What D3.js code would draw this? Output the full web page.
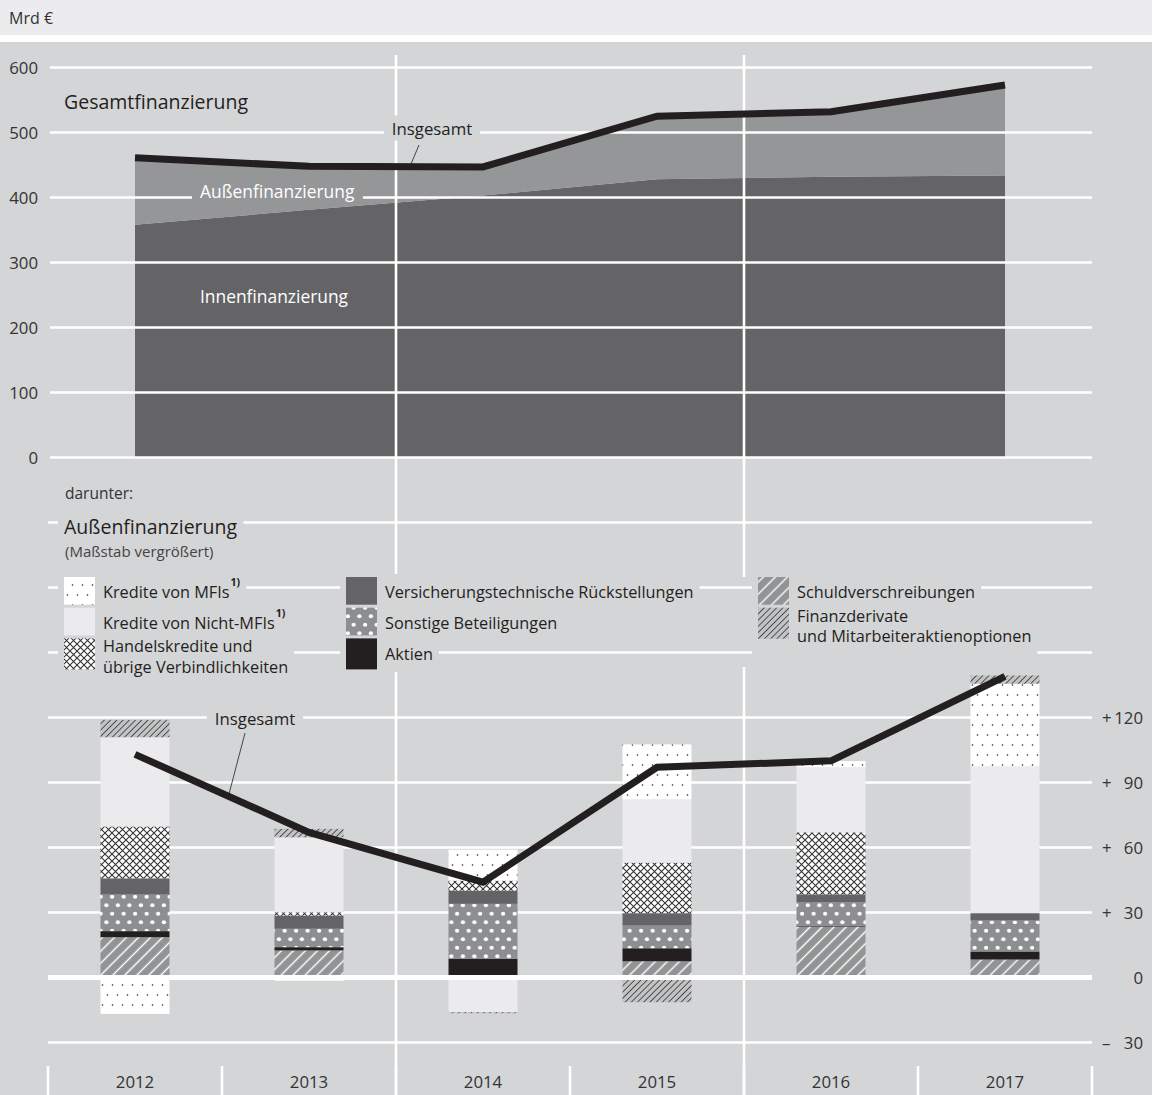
<!DOCTYPE html>
<html>
<head>
<meta charset="utf-8">
<script src="https://cdn.jsdelivr.net/npm/d3@7"></script>
<style>
  body { margin: 0; background: #d4d5d7; }
  svg { display: block; font-family: "Open Sans", sans-serif; }
</style>
</head>
<body>
<svg id="chart" width="1152" height="1095"></svg>
<script>
// ---- data (Mrd €) ----
const years = ['2012', '2013', '2014', '2015', '2016', '2017'];
const innen = [358, 381, 403, 428, 432, 434];      // Innenfinanzierung
const aussen = [103, 67, 44, 97, 100, 139];        // Außenfinanzierung insgesamt

// Außenfinanzierung nach Instrumenten
const schuld   = [18.6, 12.5, 0, 7.5, 23.5, 8.3];
const aktien   = [2.8, 1.5, 8.6, 6.0, 0.4, 3.7];
const sonstige = [16.9, 8.5, 25.4, 10.5, 10.8, 14.3];
const versich  = [7.5, 6.1, 6.1, 5.7, 3.7, 3.4];
const handels  = [23.9, 1.5, 4.6, 23.3, 28.6, 0];
const nichtMfi = [41.2, 34.6, -16.0, 29.2, 30.0, 67.7];
const mfi      = [-16.8, -1.5, 14.3, 25.4, 2.9, 38.2];
const derivate = [8.0, 3.9, -0.5, -11.4, 0, 3.8];

const topTicks = [0, 100, 200, 300, 400, 500, 600];
const botGrid = [-30, 0, 30, 60, 90, 120, 150, 180, 210];
const botLabels = [-30, 0, 30, 60, 90, 120];

const keys = ['schuld', 'aktien', 'sonstige', 'versich', 'handels', 'nichtMfi', 'mfi', 'derivate'];
const series = { schuld, aktien, sonstige, versich, handels, nichtMfi, mfi, derivate };

// legend: [key, lines, column, row]
const legendItems = [
  ['mfi', ['Kredite von MFIs|1)'], 0, 0],
  ['nichtMfi', ['Kredite von Nicht-MFIs|1)'], 0, 1],
  ['handels', ['Handelskredite und', 'übrige Verbindlichkeiten'], 0, 2],
  ['versich', ['Versicherungstechnische Rückstellungen'], 1, 0],
  ['sonstige', ['Sonstige Beteiligungen'], 1, 1],
  ['aktien', ['Aktien'], 1, 2],
  ['schuld', ['Schuldverschreibungen'], 2, 0],
  ['derivate', ['Finanzderivate', 'und Mitarbeiteraktienoptionen'], 2, 1]
];
const legendCols = [64, 346, 758];

// ---- setup ----
const W = 1152, H = 1095;
const BG = '#d4d5d7', INK = '#231f20', TXT = '#333';
const FS = 16.8, LFS = 16.3;
const svg = d3.select('#chart');
const defs = svg.append('defs');

function hatch(id, bg, fg, gap, w) {
  const p = defs.append('pattern').attr('id', id)
    .attr('patternUnits', 'userSpaceOnUse')
    .attr('width', gap).attr('height', gap)
    .attr('patternTransform', 'rotate(45)');
  p.append('rect').attr('width', gap).attr('height', gap).attr('fill', bg);
  p.append('line').attr('x1', gap / 2).attr('x2', gap / 2).attr('y1', 0).attr('y2', gap)
    .attr('stroke', fg).attr('stroke-width', w);
}
function dots(id, bg, fg, w, h, r) {
  const p = defs.append('pattern').attr('id', id)
    .attr('patternUnits', 'userSpaceOnUse').attr('width', w).attr('height', h);
  p.append('rect').attr('width', w).attr('height', h).attr('fill', bg);
  p.append('circle').attr('cx', w / 4).attr('cy', h / 4).attr('r', r).attr('fill', fg);
  p.append('circle').attr('cx', w * 3 / 4).attr('cy', h * 3 / 4).attr('r', r).attr('fill', fg);
}
hatch('p-schuld', '#929395', '#fff', 8.5, 1.4);
hatch('p-deriv', '#c2c3c5', '#3e3e3e', 4.4, 0.85);
dots('p-mfi', '#fff', '#222', 10, 20, 0.8);
dots('p-sonst', '#8d8e90', '#fff', 11.5, 17, 2.1);
const cross = defs.append('pattern').attr('id', 'p-cross')
  .attr('patternUnits', 'userSpaceOnUse').attr('width', 7).attr('height', 7);
cross.append('rect').attr('width', 7).attr('height', 7).attr('fill', '#fff');
cross.append('path').attr('d', 'M0,0L7,7M7,0L0,7').attr('stroke', '#333').attr('stroke-width', 1.1);

const fills = {
  schuld: 'url(#p-schuld)', aktien: INK, sonstige: 'url(#p-sonst)', versich: '#646466',
  handels: 'url(#p-cross)', nichtMfi: '#ebebed', mfi: 'url(#p-mfi)', derivate: 'url(#p-deriv)'
};

// background
svg.append('rect').attr('width', W).attr('height', H).attr('fill', BG);
svg.append('rect').attr('width', W).attr('height', 35).attr('fill', '#ececee');
svg.append('rect').attr('y', 35).attr('width', W).attr('height', 7).attr('fill', '#fff');
svg.append('text').attr('x', 9).attr('y', 18).attr('dominant-baseline', 'central')
  .attr('font-size', 16).attr('fill', TXT).text('Mrd €');

// scales
const x = d3.scaleBand().domain(years).range([48, 1092]);
const cx = d => x(d) + x.bandwidth() / 2;
const yTop = d3.scaleLinear().domain([0, 600]).range([457.5, 67.5]);
const yBot = d3.scaleLinear().domain([-30, 240]).range([1042.5, 457.5]);

// bottom grid (behind bars)
svg.append('g').selectAll('line').data(botGrid).join('line')
  .attr('x1', 48).attr('x2', 1092).attr('y1', d => yBot(d)).attr('y2', d => yBot(d))
  .attr('stroke', '#fff').attr('stroke-width', 2.6);

// top areas
const total = innen.map((v, i) => v + aussen[i]);
svg.append('path')
  .attr('d', d3.area().x(cx).y0(yTop(0)).y1((d, i) => yTop(innen[i]))(years))
  .attr('fill', '#646466');
svg.append('path')
  .attr('d', d3.area().x(cx).y0((d, i) => yTop(innen[i])).y1((d, i) => yTop(total[i]))(years))
  .attr('fill', '#959698');

// top grid (over the areas)
svg.append('g').selectAll('line').data(topTicks).join('line')
  .attr('x1', 50).attr('x2', 1092).attr('y1', d => yTop(d)).attr('y2', d => yTop(d))
  .attr('stroke', '#fff').attr('stroke-width', 2.6);
svg.append('g').selectAll('text').data(topTicks).join('text')
  .attr('x', 38).attr('y', d => yTop(d)).attr('text-anchor', 'end')
  .attr('dominant-baseline', 'central').attr('font-size', FS).attr('fill', TXT).text(d => d);

// legend geometry
const legTop = 577, rowH = 30.7, sw = 31;
const legBottom = legTop + 3 * rowH;

// vertical separators and ticks
const bounds = years.map(d => x(d)).concat([x.range()[1]]);
[x('2014'), x('2016')].forEach(vx => {
  [[55, legTop], [legBottom - 2, H]].forEach(([a, b]) => {
    svg.append('line').attr('x1', vx).attr('x2', vx).attr('y1', a).attr('y2', b)
      .attr('stroke', '#fff').attr('stroke-width', 2.6);
  });
});
svg.append('g').selectAll('line').data(bounds).join('line')
  .attr('x1', d => d).attr('x2', d => d).attr('y1', 1066).attr('y2', 1095)
  .attr('stroke', '#fff').attr('stroke-width', 2.6);
svg.append('g').selectAll('text').data(years).join('text')
  .attr('x', cx).attr('y', 1081).attr('text-anchor', 'middle')
  .attr('dominant-baseline', 'central').attr('font-size', FS).attr('fill', TXT).text(d => d);

// bars
const table = years.map((y, i) => {
  const o = { year: y };
  keys.forEach(k => { o[k] = series[k][i]; });
  return o;
});
const stacked = d3.stack().keys(keys).offset(d3.stackOffsetDiverging)(table);
const bw = 69;
svg.append('g').selectAll('g').data(stacked).join('g')
  .attr('fill', d => fills[d.key])
  .selectAll('rect').data(d => d).join('rect')
  .attr('x', d => cx(d.data.year) - bw / 2).attr('width', bw)
  .attr('y', d => yBot(Math.max(d[0], d[1])))
  .attr('height', d => Math.abs(yBot(d[0]) - yBot(d[1])));

// zero line over bars
svg.append('line').attr('x1', 48).attr('x2', 1092).attr('y1', yBot(0)).attr('y2', yBot(0))
  .attr('stroke', '#fff').attr('stroke-width', 5);

// bottom axis labels
const bl = svg.append('g').selectAll('g').data(botLabels).join('g');
bl.append('text').attr('x', 1102).attr('y', d => yBot(d)).attr('dominant-baseline', 'central')
  .attr('font-size', FS).attr('fill', TXT).text(d => d > 0 ? '+' : d < 0 ? '–' : '');
bl.append('text').attr('x', 1143).attr('y', d => yBot(d)).attr('text-anchor', 'end')
  .attr('dominant-baseline', 'central').attr('font-size', FS).attr('fill', TXT).text(d => Math.abs(d));

// lines
const lineStyle = sel => sel.attr('fill', 'none').attr('stroke', INK).attr('stroke-width', 7);
svg.append('path').attr('d', d3.line().x(cx).y((d, i) => yTop(total[i]))(years)).call(lineStyle);
svg.append('path').attr('d', d3.line().x(cx).y((d, i) => yBot(aussen[i]))(years)).call(lineStyle);

// labels with a background box
function boxLabel(txt, lx, ly, opts) {
  const g = svg.append('g');
  const t = g.append('text').attr('x', lx).attr('y', ly)
    .attr('text-anchor', opts.anchor || 'start').attr('dominant-baseline', 'central')
    .attr('font-size', opts.size || FS).attr('fill', opts.color || INK).text(txt);
  if (opts.box) {
    const b = t.node().getBBox();
    g.insert('rect', 'text').attr('x', b.x - opts.pad).attr('y', b.y - 1)
      .attr('width', b.width + 2 * opts.pad).attr('height', b.height + 2).attr('fill', opts.box);
  }
  return g;
}
boxLabel('Gesamtfinanzierung', 64, 101, { size: 19.5 });
boxLabel('Insgesamt', 432, 128, { anchor: 'middle', box: BG, pad: 8 });
svg.append('line').attr('x1', 419).attr('y1', 145).attr('x2', 411).attr('y2', 164)
  .attr('stroke', INK).attr('stroke-width', 0.8);
boxLabel('Außenfinanzierung', 200, 191, { size: 17.4, color: '#fff', box: '#959698', pad: 8 });
boxLabel('Innenfinanzierung', 200, 296, { size: 17.4, color: '#fff' });
boxLabel('Insgesamt', 255, 718, { anchor: 'middle', box: BG, pad: 8 });
svg.append('line').attr('x1', 245).attr('y1', 733).attr('x2', 229).attr('y2', 794)
  .attr('stroke', INK).attr('stroke-width', 0.8);
boxLabel('darunter:', 65, 493, { size: 15.5, color: TXT });
boxLabel('Außenfinanzierung', 64, 526, { size: 19.5, box: BG, pad: 6 });
boxLabel('(Maßstab vergrößert)', 65, 551, { size: 15, color: '#444' });

// legend
legendItems.forEach(([key, lines, col, row]) => {
  const g = svg.append('g');
  const lx = legendCols[col], ly = legTop + row * rowH;
  const isLast = !legendItems.some(o => o[2] === col && o[3] > row);
  const t = g.append('text').attr('font-size', LFS).attr('fill', INK);
  lines.forEach((ln, j) => {
    const [main, sup] = ln.split('|');
    const mid = ly + rowH / 2;
    const yy = lines.length > 1 ? mid - 7.5 + j * 20.5 : mid;
    t.append('tspan').attr('x', lx + sw + 8).attr('y', yy)
      .attr('dominant-baseline', 'central').text(main);
    if (sup) t.append('tspan').attr('dy', -6).attr('dx', 1).attr('font-size', 10.5)
      .attr('font-weight', 'bold').text(sup);
  });
  const b = t.node().getBBox();
  const bottom = isLast ? legBottom + 3 : Math.max(ly + rowH, b.y + b.height) + 3;
  g.insert('rect', 'text').attr('x', lx - 6).attr('y', ly - 3)
    .attr('width', b.x + b.width - lx + 12).attr('height', bottom - ly + 3).attr('fill', BG);
  g.insert('rect', 'text').attr('x', lx).attr('y', ly).attr('width', sw).attr('height', rowH + 0.3)
    .attr('fill', fills[key]);
});
</script>
</body>
</html>
